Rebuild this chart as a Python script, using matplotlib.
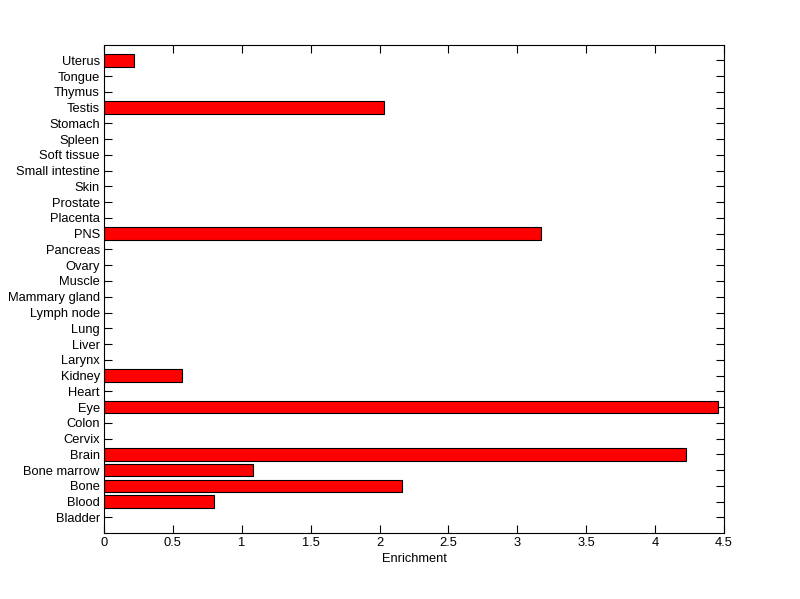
import matplotlib
matplotlib.use('Agg')
import matplotlib.pyplot as plt

plt.rcParams['font.family'] = ['Liberation Sans', 'DejaVu Sans']

tissues = ['Bladder', 'Blood', 'Bone', 'Bone marrow', 'Brain', 'Cervix', 'Colon',
           'Eye', 'Heart', 'Kidney', 'Larynx', 'Liver', 'Lung', 'Lymph node',
           'Mammary gland', 'Muscle', 'Ovary', 'Pancreas', 'PNS', 'Placenta',
           'Prostate', 'Skin', 'Small intestine', 'Soft tissue', 'Spleen',
           'Stomach', 'Testis', 'Thymus', 'Tongue', 'Uterus']
enrichment = [0, 0.795, 2.165, 1.085, 4.225, 0, 0,
              4.46, 0, 0.567, 0, 0, 0, 0,
              0, 0, 0, 0, 3.17, 0,
              0, 0, 0, 0, 0,
              0, 2.035, 0, 0, 0.218]
xticks = [0, 0.5, 1, 1.5, 2, 2.5, 3, 3.5, 4, 4.5]

fig = plt.figure(figsize=(8, 5.99), dpi=100)
ax = fig.add_axes([0.13, 0.11, 0.775, 0.8155])

pos = list(range(1, len(tissues) + 1))
# MATLAB skips drawing zero-width bars
vals = [v if v > 0 else float('nan') for v in enrichment]
ax.barh(pos, vals, height=0.8, color='#ff0000', edgecolor='black', linewidth=0.8)
ax.set_axisbelow(True)  # bars hide the ticks like in matlab

ax.set_xlim(0, 4.5)
ax.set_ylim(0, len(tissues) + 1)
ax.set_xticks(xticks)
ax.set_xticklabels(['0', '0.5', '1', '1.5', '2', '2.5', '3', '3.5', '4', '4.5'])
ax.set_yticks(pos)
ax.set_yticklabels(tissues)
ax.tick_params(direction='in', top=True, right=True, length=6, width=0.8,
               labelsize=9.3, pad=3)
for s in ax.spines.values():
    s.set_linewidth(0.8)
ax.set_xlabel('Enrichment', fontsize=9.3, labelpad=3)

fig.savefig('out.png', dpi=100)
